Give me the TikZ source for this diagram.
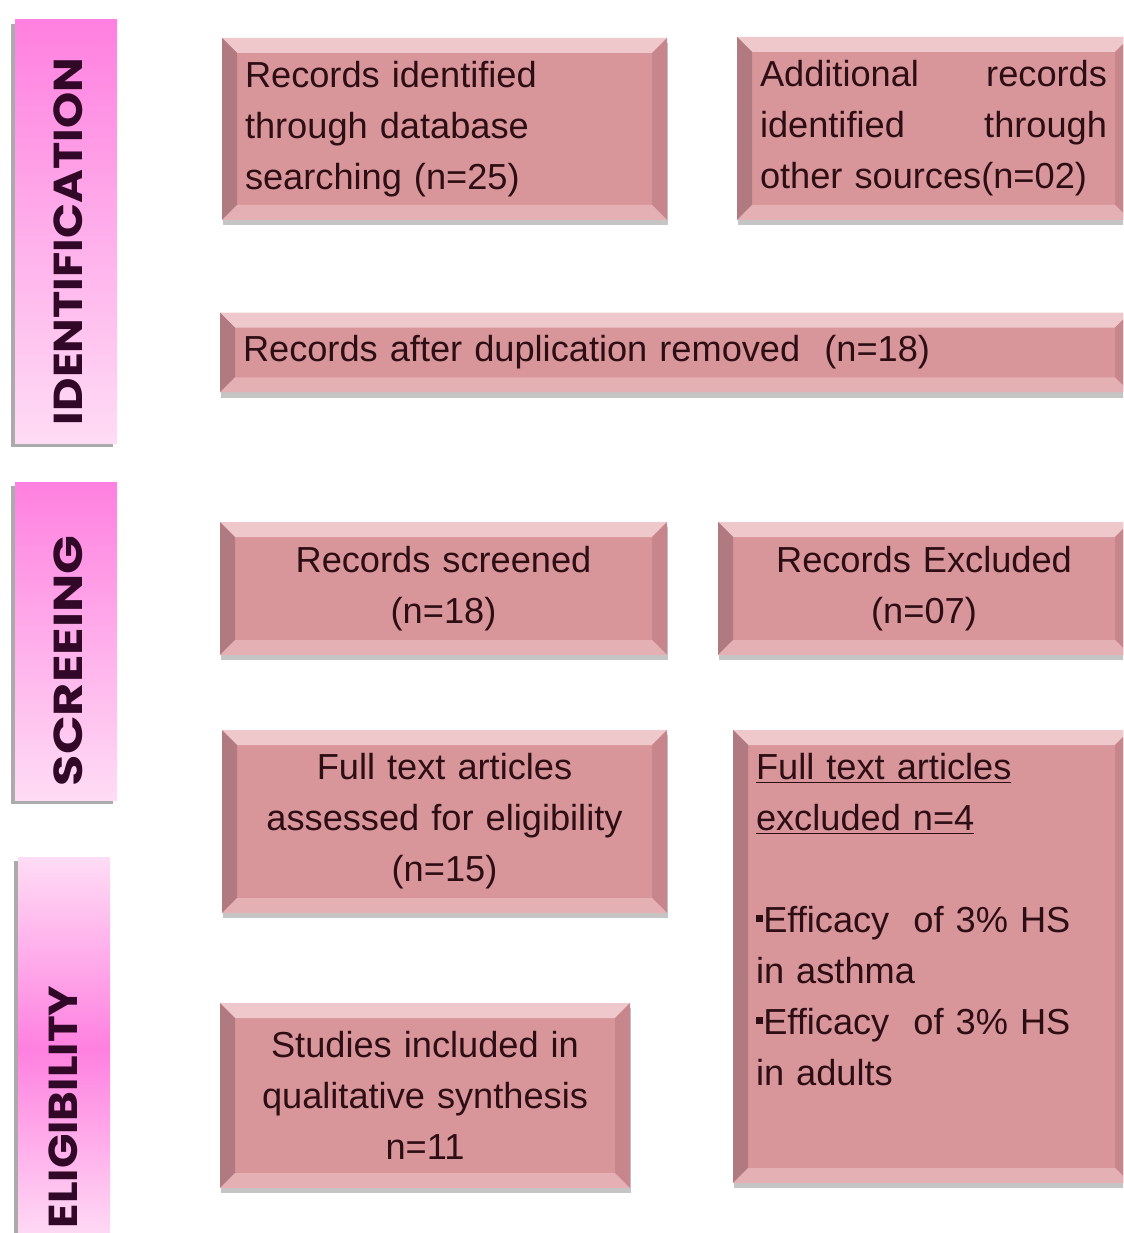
\documentclass[tikz,border=0pt]{standalone}
\usepackage{fontspec}
\setmainfont{Liberation Sans}
\newfontfamily\stagefont{Poppins}
\usetikzlibrary{shadows}

\definecolor{boxface}{RGB}{216,150,154}
\definecolor{boxtop}{RGB}{238,200,202}
\definecolor{boxleft}{RGB}{176,122,128}
\definecolor{boxright}{RGB}{198,134,140}
\definecolor{boxbottom}{RGB}{228,176,179}
\definecolor{boxtext}{RGB}{45,14,20}
\definecolor{stagedeep}{RGB}{255,128,224}
\definecolor{stagelight}{RGB}{255,220,245}
\definecolor{stagetext}{RGB}{50,8,40}

\def\ppb{path picture bounding box}
\def\bw{0.3}

\begin{document}
\begin{tikzpicture}[
    prbox/.style={rectangle, fill=boxface, inner sep=0.46cm, text=boxtext,
      font=\fontsize{20.6}{29}\selectfont,
      drop shadow={shadow xshift=0.5pt, shadow yshift=-3pt, fill=black!45, opacity=0.5},
      path picture={
        \fill[boxtop] (\ppb.north west) -- (\ppb.north east) -- ([shift={(-\bw,-\bw)}]\ppb.north east) -- ([shift={(\bw,-\bw)}]\ppb.north west) -- cycle;
        \fill[boxleft] (\ppb.north west) -- ([shift={(\bw,-\bw)}]\ppb.north west) -- ([shift={(\bw,\bw)}]\ppb.south west) -- (\ppb.south west) -- cycle;
        \fill[boxright] (\ppb.north east) -- ([shift={(-\bw,-\bw)}]\ppb.north east) -- ([shift={(-\bw,\bw)}]\ppb.south east) -- (\ppb.south east) -- cycle;
        \fill[boxbottom] (\ppb.south west) -- ([shift={(\bw,\bw)}]\ppb.south west) -- ([shift={(-\bw,\bw)}]\ppb.south east) -- (\ppb.south east) -- cycle;
      }},
    stagebar/.style={rectangle, inner sep=0pt, minimum width=2.04cm,
      drop shadow={shadow xshift=-2.5pt, shadow yshift=-2.5pt, fill=black!55, opacity=0.6}},
    stagelabel/.style={rotate=90, xscale=#1, transform shape, text=stagetext,
      font=\stagefont\bfseries\fontsize{23}{26}\selectfont},
  ]
  \useasboundingbox (0,0) rectangle (22.46,-24.66);
  \clip (0,0) rectangle (22.46,-24.66);

  % stage bars on the left
  \node[stagebar, minimum height=8.46cm, top color=stagedeep, bottom color=stagelight] (ident) at (1.32,-4.63) {};
  \node[stagelabel=1.14] (identlab) at (1.37,-4.83) {IDENTIFICATION};
  \node[stagebar, minimum height=6.36cm, top color=stagedeep, bottom color=stagelight] (screen) at (1.32,-12.82) {};
  \node[stagelabel=1.26] (screenlab) at (1.37,-13.22) {SCREEING};
  \node[stagebar, minimum width=1.84cm, minimum height=7.66cm, top color=stagelight, bottom color=stagelight, middle color=stagedeep] (elig) at (1.28,-20.97) {};
  \node[stagelabel=1.12] (eliglab) at (1.27,-22.14) {ELIGIBILITY};

  % identification
  \node[prbox, text width=7.98cm, minimum height=3.64cm, align=left] (database) at (8.89,-2.58)
    {Records identified\\through database\\searching (n=25)};
  \node[prbox, text width=6.94cm, minimum height=3.66cm, align=left] (othersrc) at (18.67,-2.57)
    {\makebox[6.94cm][l]{Additional\hfill records}\\\makebox[6.94cm][l]{identified\hfill through}\\other sources(n=02)};
  \node[prbox, text width=17.28cm, minimum height=1.58cm, align=left] (dedup) at (13.5,-7.05)
    {Records after duplication removed~~(n=18)};

  % screening
  \node[prbox, text width=8.02cm, minimum height=2.66cm, align=center] (screened) at (8.87,-11.77)
    {Records screened\\(n=18)};
  \node[prbox, text width=7.32cm, minimum height=2.66cm, align=center] (excluded) at (18.48,-11.77)
    {Records Excluded\\(n=07)};

  % eligibility
  \node[prbox, text width=7.98cm, minimum height=3.66cm, align=center] (fulltext) at (8.89,-16.43)
    {Full text articles\\assessed for eligibility\\(n=15)};
  \node[prbox, text width=7.02cm, minimum height=9.06cm, align=left] (ftexcl) at (18.63,-19.13)
    {\parbox[c][8.14cm][t]{7.02cm}{\underline{Full text articles}\\
      \underline{excluded n=4}\\[29pt]
      \raisebox{0.28em}{\rule{0.2em}{0.2em}}Efficacy~~of 3\% HS\\in asthma\\
      \raisebox{0.28em}{\rule{0.2em}{0.2em}}Efficacy~~of 3\% HS\\in adults}};

  % included
  \node[prbox, text width=7.28cm, minimum height=3.7cm, align=center] (included) at (8.5,-21.91)
    {Studies included in\\qualitative synthesis\\n=11};
\end{tikzpicture}
\end{document}
